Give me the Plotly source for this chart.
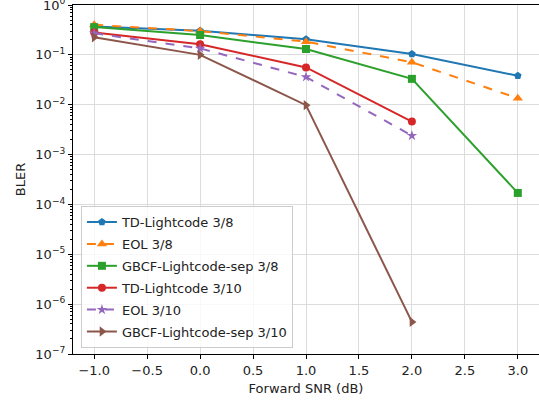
import plotly.graph_objects as go

snr = [-1.0, 0.0, 1.0, 2.0, 3.0]

names = ["TD-Lightcode 3/8", "EOL 3/8", "GBCF-Lightcode-sep 3/8",
         "TD-Lightcode 3/10", "EOL 3/10", "GBCF-Lightcode-sep 3/10"]

td_38 = [0.37, 0.305, 0.205, 0.104, 0.038]
eol_38 = [0.40, 0.30, 0.184, 0.071, 0.0135]
gbcf_38 = [0.36, 0.25, 0.131, 0.033, 1.7e-4]
td_310 = [0.28, 0.163, 0.056, 0.0046]
eol_310 = [0.27, 0.135, 0.036, 0.0024]
gbcf_310 = [0.225, 0.10, 0.0098, 4.4e-7]

series = [td_38, eol_38, gbcf_38, td_310, eol_310, gbcf_310]
colors = ["#1f77b4", "#ff7f0e", "#2ca02c", "#d62728", "#9467bd", "#8c564b"]
symbols = ["pentagon", "triangle-up", "square", "circle", "star", "triangle-right"]
dashes = ["solid", "dash", "solid", "solid", "dash", "solid"]
sizes = [8, 9, 8, 8, 8, 9]

ytick_vals = [10.0 ** e for e in range(-7, 1)]
ytick_text = [("10<sup>%d</sup>" % e).replace("-", "\u2212") for e in range(-7, 1)]
xtick_vals = [-1.0, -0.5, 0.0, 0.5, 1.0, 1.5, 2.0, 2.5, 3.0]
xtick_text = [("%.1f" % v).replace("-", "\u2212") for v in xtick_vals]

fig = go.Figure()
for i, (nm, ys) in enumerate(zip(names, series)):
    fig.add_trace(go.Scatter(
        x=snr[:len(ys)], y=ys, name=nm, mode="lines+markers",
        legendgroup="g%d" % i,
        line=dict(color=colors[i], width=2, dash=dashes[i]),
        marker=dict(symbol=symbols[i], size=sizes[i], color=colors[i]),
    ))

font = "DejaVu Sans, sans-serif"
fig.update_layout(
    width=539, height=400,
    margin=dict(l=73, r=0, t=5, b=46, autoexpand=False),
    plot_bgcolor="white", paper_bgcolor="white",
    font=dict(family=font, size=13, color="#222"),
    showlegend=True,
    legend=dict(x=0.017, y=0.017, xanchor="left", yanchor="bottom",
                bgcolor="rgba(255,255,255,0.8)", bordercolor="#cccccc", borderwidth=1,
                font=dict(family=font, size=13, color="#222"), tracegroupgap=2,
                itemwidth=30),
    xaxis=dict(
        range=[-1.2, 3.2], tickvals=xtick_vals, ticktext=xtick_text,
        showgrid=True, gridcolor="#dcdcdc", gridwidth=1,
        showline=True, linecolor="black", linewidth=1.2, mirror=True,
        ticks="outside", ticklen=4, tickcolor="black", zeroline=False,
        ticklabeloverflow="allow",
        title=dict(text="Forward SNR (dB)", font=dict(family=font, size=13), standoff=7),
    ),
    yaxis=dict(
        type="log", range=[-7, 0], tickvals=ytick_vals, ticktext=ytick_text,
        showgrid=True, gridcolor="#dcdcdc", gridwidth=1,
        showline=True, linecolor="black", linewidth=1.2,
        ticks="outside", ticklen=4, tickcolor="black", zeroline=False,
        ticklabeloverflow="allow",
        minor=dict(ticks="outside", ticklen=2, tickcolor="black", dtick="D1", showgrid=False),
        title=dict(text="BLER", font=dict(family=font, size=13), standoff=6),
    ),
)

fig.write_html("out.html", config={"displayModeBar": False},
               post_script="document.body.style.margin='0';")
